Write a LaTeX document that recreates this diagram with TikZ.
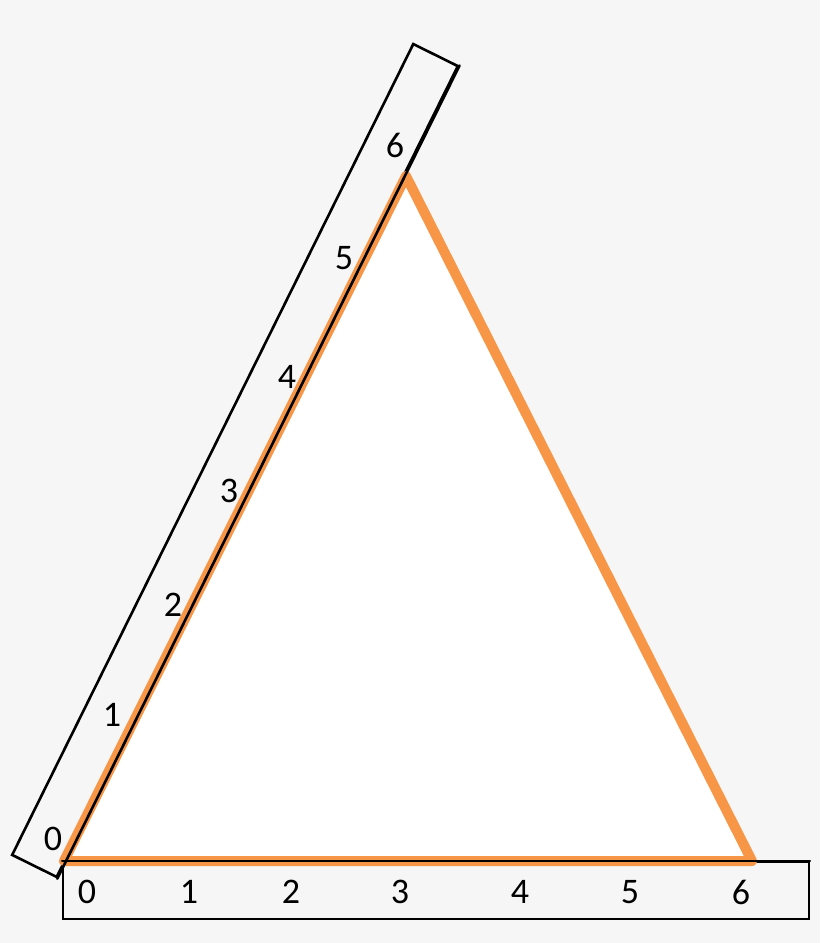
\documentclass[tikz,border=0pt]{standalone}
\usepackage{fontspec}
\setmainfont{Carlito}
\usepackage{tikz}
\usetikzlibrary{positioning}
\definecolor{paper}{RGB}{246,246,246}
\definecolor{edgeorange}{RGB}{247,150,70}
\tikzstyle{ruler} = [rectangle, draw, line width=2.6pt, fill=paper, inner sep=0pt]
\tikzstyle{tick} = [inner sep=1pt, font=\fontsize{36pt}{40pt}\selectfont]
\tikzstyle{side} = [draw=edgeorange, line width=10pt, line join=round, fill=white]
\tikzstyle{rim} = [draw, line width=2.6pt, line cap=round]

\begin{document}
\begin{tikzpicture}[x=1pt, y=-1pt]
        \fill[paper] (0,0) rectangle (820,943);
        \useasboundingbox (0,0) rectangle (820,943);
        % rulers
        \node[ruler, rotate=63.68, minimum width=904.7pt, minimum height=49.7pt](slant) at (235,460.5){};
        \node[ruler, line width=2pt, minimum width=746pt, minimum height=57pt](base) at (436,890.5){};
        % triangle
        \coordinate (A) at (64,861);
        \coordinate (B) at (752,861);
        \coordinate (C) at (406,176);
        \path[side] (A) -- (B) -- (C) -- cycle;
        \path[rim] (slant.south west) -- (slant.south east);
        \path[rim, line width=2pt] (base.north west) -- (base.north east);
        % numbers on the slanted ruler
        \node[tick] (s0) at (53,839){0};
        \node[tick] (s1) at (112,715){1};
        \node[tick] (s2) at (173,605){2};
        \node[tick] (s3) at (229,491){3};
        \node[tick] (s4) at (287,377){4};
        \node[tick] (s5) at (344,258){5};
        \node[tick] (s6) at (395,145){6};
        % numbers on the base ruler
        \node[tick] (b0) at (87,892){0};
        \node[tick] (b1) at (189,892){1};
        \node[tick] (b2) at (291,892){2};
        \node[tick] (b3) at (400,892){3};
        \node[tick] (b4) at (520,892){4};
        \node[tick] (b5) at (630,892){5};
        \node[tick] (b6) at (741,892){6};
\end{tikzpicture}
\end{document}
